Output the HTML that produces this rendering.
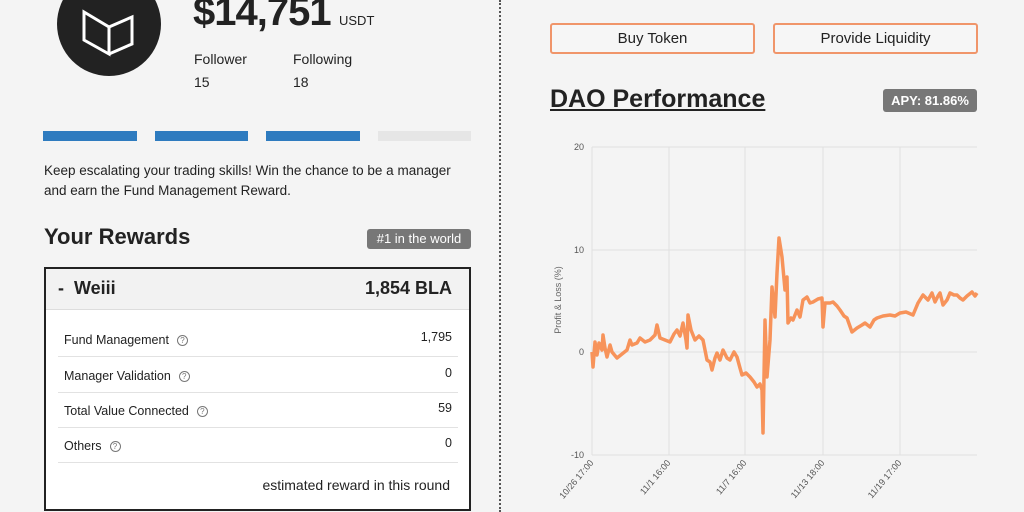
<!DOCTYPE html>
<html><head><meta charset="utf-8"><style>
*{margin:0;padding:0;box-sizing:border-box}
body{width:1024px;height:512px;overflow:hidden;background:#f4f4f4;font-family:"Liberation Sans",sans-serif;color:#222;position:relative}
.a{position:absolute;white-space:nowrap}
.bar{position:absolute;top:131px;height:10px;background:#2e7bbf}
.row{position:absolute;left:58px;width:400px;height:35px;border-bottom:1px solid #e2e2e2;font-size:12.5px}
.row span{position:absolute;bottom:9px}
.q{display:inline-block;width:11px;height:11px;border:1px solid #777;border-radius:50%;font-size:8px;text-align:center;line-height:9px;color:#777;margin-left:8px;vertical-align:1px;font-style:normal}
.btn{position:absolute;top:23px;height:31px;width:205px;border:2px solid #f0956a;border-radius:3px;font-size:15px;text-align:center;line-height:27px;background:#f6f6f6}
</style></head><body>
<div class="a" style="left:57px;top:-28px;width:104px;height:104px;border-radius:50%;background:#222"></div>
<svg class="a" style="left:57px;top:-28px" width="104" height="104"><path d="M27 40 L52 55 L52 82 L27 68 Z M52 55 L75 45 L75 72 L52 82" fill="none" stroke="#fff" stroke-width="3"/></svg>
<div class="a" style="left:193px;top:-10px;font-size:40px;font-weight:bold;letter-spacing:-1px">$14,751</div>
<div class="a" style="left:339px;top:13px;font-size:13px">USDT</div>
<div class="a" style="left:194px;top:51px;font-size:14px">Follower</div>
<div class="a" style="left:194px;top:74px;font-size:14px">15</div>
<div class="a" style="left:293px;top:51px;font-size:14px">Following</div>
<div class="a" style="left:293px;top:74px;font-size:14px">18</div>
<div class="bar" style="left:43px;width:94px"></div>
<div class="bar" style="left:155px;width:93px"></div>
<div class="bar" style="left:266px;width:94px"></div>
<div class="bar" style="left:378px;width:93px;background:#e6e6e6"></div>
<div class="a" style="left:44px;top:161px;font-size:13.5px;line-height:20px">Keep escalating your trading skills! Win the chance to be a manager<br>and earn the Fund Management Reward.</div>
<div class="a" style="left:44px;top:224px;font-size:22px;font-weight:bold">Your Rewards</div>
<div class="a" style="left:367px;top:229px;width:104px;height:20px;background:#777;border-radius:3px;color:#fff;font-size:13px;text-align:center;line-height:20px">#1 in the world</div>
<div class="a" style="left:44px;top:267px;width:427px;height:244px;border:2px solid #222;background:#fff"></div>
<div class="a" style="left:46px;top:269px;width:423px;height:41px;background:#f2f2f2;border-bottom:1px solid #ddd"></div>
<div class="a" style="left:58px;top:278px;font-size:18px;font-weight:bold">-&nbsp; Weiii</div>
<div class="a" style="right:572px;top:278px;font-size:18px;font-weight:bold">1,854 BLA</div>
<div class="row" style="top:322px"><span style="left:6px">Fund Management<i class="q">?</i></span><span style="right:6px;top:8px;bottom:auto">1,795</span></div>
<div class="row" style="top:358px"><span style="left:6px">Manager Validation<i class="q">?</i></span><span style="right:6px;top:8px;bottom:auto">0</span></div>
<div class="row" style="top:393px"><span style="left:6px">Total Value Connected<i class="q">?</i></span><span style="right:6px;top:8px;bottom:auto">59</span></div>
<div class="row" style="top:428px"><span style="left:6px">Others<i class="q">?</i></span><span style="right:6px;top:8px;bottom:auto">0</span></div>
<div class="a" style="right:574px;top:477px;font-size:14px">estimated reward in this round</div>
<div class="a" style="left:499px;top:0;height:512px;border-left:2px dotted #555"></div>
<div class="btn" style="left:550px">Buy Token</div>
<div class="btn" style="left:773px">Provide Liquidity</div>
<div class="a" style="left:550px;top:85px;font-size:25px;font-weight:bold;text-decoration:underline">DAO Performance</div>
<div class="a" style="left:883px;top:89px;width:94px;height:23px;background:#777;border-radius:3px;color:#fff;font-size:13px;font-weight:bold;text-align:center;line-height:23px">APY: 81.86%</div>
<svg class="a" style="left:0;top:0" width="1024" height="512" font-family="Liberation Sans,sans-serif">
<g stroke="#e0e0e0" stroke-width="1">
<line x1="592" y1="147" x2="977" y2="147"/><line x1="592" y1="250" x2="977" y2="250"/><line x1="592" y1="352" x2="977" y2="352"/><line x1="592" y1="455" x2="977" y2="455"/>
<line x1="592" y1="147" x2="592" y2="455"/><line x1="669" y1="147" x2="669" y2="455"/><line x1="745" y1="147" x2="745" y2="455"/><line x1="823" y1="147" x2="823" y2="455"/><line x1="900" y1="147" x2="900" y2="455"/>
</g>
<g font-size="9" fill="#555" text-anchor="end">
<text x="584" y="150">20</text><text x="584" y="253">10</text><text x="584" y="355">0</text><text x="584" y="458">-10</text>
</g>
<text transform="translate(561,300) rotate(-90)" font-size="9" fill="#666" text-anchor="middle">Profit &amp; Loss (%)</text>
<g font-size="9" fill="#555" text-anchor="end">
<text transform="translate(594,463) rotate(-50)">10/26 17:00</text>
<text transform="translate(671,463) rotate(-50)">11/1 16:00</text>
<text transform="translate(747,463) rotate(-50)">11/7 16:00</text>
<text transform="translate(825,463) rotate(-50)">11/13 18:00</text>
<text transform="translate(902,463) rotate(-50)">11/19 17:00</text>
</g>
<polyline fill="none" stroke="#f7935a" stroke-width="3.5" stroke-linejoin="round" points="592,352 593,367 595,342 597,355 599,343 602,350 603,335 605,348 607,357 610,345 612,352 617,358 622,354 627,350 630,340 632,345 637,343 640,338 645,342 650,340 655,335 657,325 660,338 665,340 670,342 674,334 677,330 680,336 683,323 686,340 687,348 688,315 691,330 695,340 699,336 703,340 707,360 710,362 712,370 715,358 717,353 720,360 723,350 727,358 730,360 734,352 737,357 740,368 742,375 746,373 750,377 754,382 757,387 760,384 762,390 763,433 765,320 767,377 770,340 772,287 775,317 777,273 779,238 782,257 785,290 787,277 788,323 791,318 793,320 797,310 800,317 803,300 807,297 810,303 813,302 818,299 822,298 823,327 825,303 830,303 833,302 837,306 840,310 844,316 847,318 852,332 857,328 862,325 865,323 870,327 874,320 877,318 883,316 890,315 895,316 900,313 906,312 913,315 918,303 923,295 928,300 932,293 935,302 938,296 940,293 943,305 947,300 950,293 954,295 957,295 960,298 963,300 967,296 972,292 975,296 977,293"/>
</svg>
</body></html>
